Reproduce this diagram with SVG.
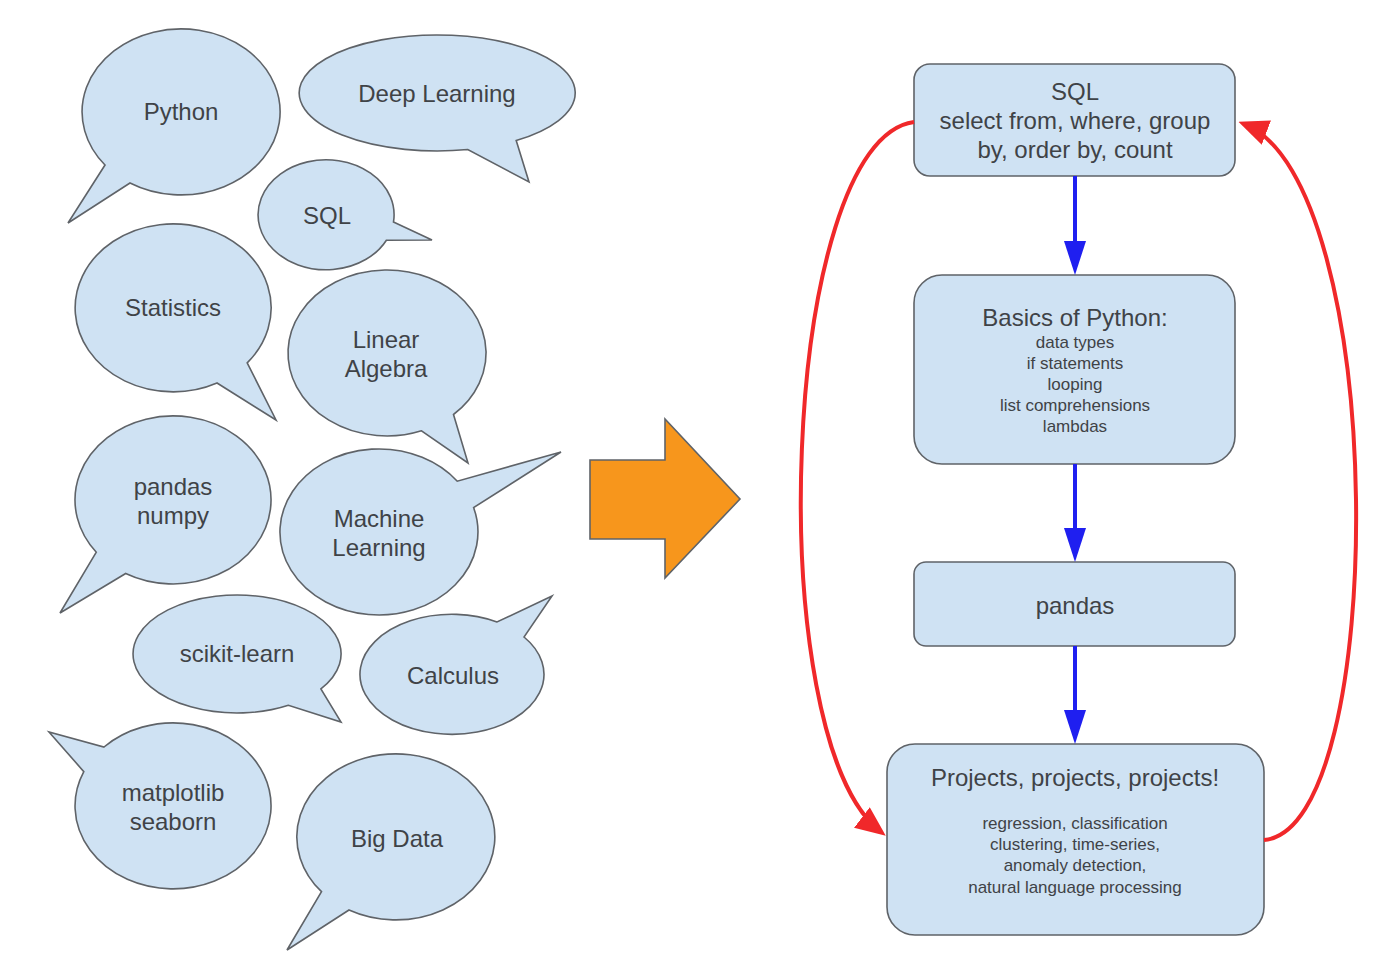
<svg xmlns="http://www.w3.org/2000/svg" width="1400" height="980" viewBox="0 0 1400 980">
<style>
.b{fill:#cfe2f3;stroke:#5f6368;stroke-width:1.6;stroke-linejoin:miter}
.bx{fill:#cfe2f3;stroke:#5f6368;stroke-width:1.6}
.t{font-family:"Liberation Sans",Arial,sans-serif;font-size:24px;fill:#3f4347;text-anchor:middle}
.s{font-family:"Liberation Sans",Arial,sans-serif;font-size:17px;fill:#3f4347;text-anchor:middle}
.blue{fill:none;stroke:#1f1ff0;stroke-width:4}
.red{fill:none;stroke:#f0282a;stroke-width:4}
</style>
<defs>
<marker id="ab" viewBox="0 0 34 22" markerWidth="34" markerHeight="22" refX="26" refY="11" orient="auto" markerUnits="userSpaceOnUse"><path d="M0,0 L34,11 L0,22 Z" fill="#1f1ff0"/></marker>
<marker id="ar" viewBox="0 0 30 26" markerWidth="30" markerHeight="26" refX="24" refY="13" orient="auto" markerUnits="userSpaceOnUse"><path d="M0,0 L30,13 L0,26 Z" fill="#f0282a"/></marker>
</defs>
<rect width="1400" height="980" fill="#ffffff"/>

<g id="bubble-python"><path class="b" d="M105,165 A99,83 0 1 1 130,183 L68,223 Z"/><text class="t" x="181" y="120">Python</text></g>
<g id="bubble-deep-learning"><path class="b" d="M467.8,149.5 A138,58 0 1 1 516.2,140.5 L529,182 Z"/><text class="t" x="437" y="102">Deep Learning</text></g>
<g id="bubble-sql"><path class="b" d="M386.4,240.2 A68,55 0 1 1 393.5,222 L432,240 Z"/><text class="t" x="327" y="224">SQL</text></g>
<g id="bubble-statistics"><path class="b" d="M217,383 A98,84 0 1 1 247.2,362.9 L276,420 Z"/><text class="t" x="173" y="316">Statistics</text></g>
<g id="bubble-linear-algebra"><path class="b" d="M421.5,430.8 A99,83 0 1 1 453.5,414.5 L468,463 Z"/><text class="t" x="386" y="348">Linear</text><text class="t" x="386" y="377">Algebra</text></g>
<g id="bubble-pandas-numpy"><path class="b" d="M96.3,552.2 A98,84 0 1 1 125.7,573.5 L60,613 Z"/><text class="t" x="173" y="495">pandas</text><text class="t" x="173" y="524">numpy</text></g>
<g id="bubble-machine-learning"><path class="b" d="M473.6,507.6 A99,83 0 1 1 457.3,481.2 L561,452 Z"/><text class="t" x="379" y="527">Machine</text><text class="t" x="379" y="556">Learning</text></g>
<g id="bubble-scikit-learn"><path class="b" d="M288.4,705.3 A104,59 0 1 1 320.9,688.9 L341,722 Z"/><text class="t" x="237" y="662">scikit-learn</text></g>
<g id="bubble-calculus"><path class="b" d="M524,637 A92,60 0 1 1 497,622 L552,596 Z"/><text class="t" x="453" y="684">Calculus</text></g>
<g id="bubble-matplotlib"><path class="b" d="M104,747 A98,83 0 1 1 83.8,771.6 L49,732 Z"/><text class="t" x="173" y="801">matplotlib</text><text class="t" x="173" y="830">seaborn</text></g>
<g id="bubble-big-data"><path class="b" d="M321.5,891.7 A99,83 0 1 1 349,910 L287,950 Z"/><text class="t" x="397" y="847">Big Data</text></g>

<g id="big-arrow"><path d="M590,460 L665,460 L665,419 L740,499 L665,578 L665,539 L590,539 Z" fill="#f7961c" stroke="#5f6368" stroke-width="1.6"/></g>

<g id="node-sql"><rect class="bx" x="914" y="64" width="321" height="112" rx="16"/><text class="t" x="1075" y="100">SQL</text><text class="t" x="1075" y="129">select from, where, group</text><text class="t" x="1075" y="158">by, order by, count</text></g>
<g id="node-basics"><rect class="bx" x="914" y="275" width="321" height="189" rx="28"/><text class="t" x="1075" y="326">Basics of Python:</text><text class="s" x="1075" y="348">data types</text><text class="s" x="1075" y="369">if statements</text><text class="s" x="1075" y="390">looping</text><text class="s" x="1075" y="411">list comprehensions</text><text class="s" x="1075" y="432">lambdas</text></g>
<g id="node-pandas"><rect class="bx" x="914" y="562" width="321" height="84" rx="12"/><text class="t" x="1075" y="614">pandas</text></g>
<g id="node-projects"><rect class="bx" x="887" y="744" width="377" height="191" rx="28"/><text class="t" x="1075" y="786">Projects, projects, projects!</text><text class="s" x="1075" y="829">regression, classification</text><text class="s" x="1075" y="850">clustering, time-series,</text><text class="s" x="1075" y="871">anomaly detection,</text><text class="s" x="1075" y="893">natural language processing</text></g>

<g id="connectors">
<path class="blue" d="M1075,176 L1075,267" marker-end="url(#ab)"/>
<path class="blue" d="M1075,464 L1075,554" marker-end="url(#ab)"/>
<path class="blue" d="M1075,646 L1075,736" marker-end="url(#ab)"/>
<path class="red" d="M914,122 C780,140 760,740 881,832" marker-end="url(#ar)"/>
<path class="red" d="M1264,840 C1390,830 1390,180 1244,124" marker-end="url(#ar)"/>
</g>
</svg>
